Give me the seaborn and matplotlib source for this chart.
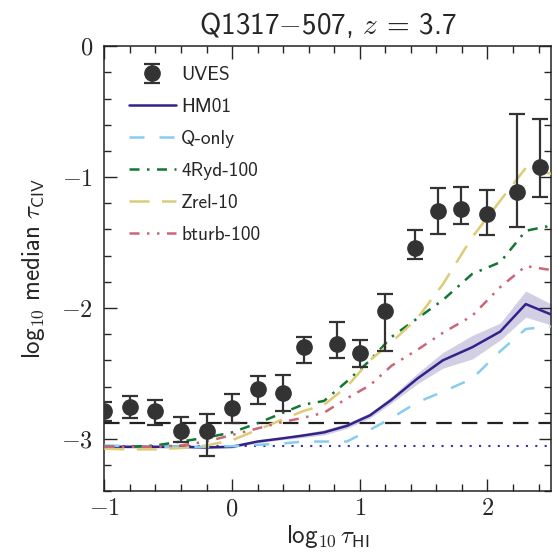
import matplotlib
matplotlib.use("Agg")
import matplotlib.pyplot as plt
from matplotlib.lines import Line2D
from matplotlib.ticker import FuncFormatter, MultipleLocator
import numpy as np
import pandas as pd
import seaborn as sns

# Observed UVES medians (log10 tau_CIV) in bins of log10 tau_HI
obs_x = [-1.0, -0.8, -0.6, -0.4, -0.2, 0.0, 0.2, 0.4, 0.56, 0.82, 1.0, 1.2,
         1.43, 1.61, 1.79, 2.0, 2.23, 2.41]
obs_y = [-2.79, -2.755, -2.79, -2.94, -2.94, -2.76, -2.62, -2.65, -2.30, -2.275,
         -2.34, -2.02, -1.545, -1.255, -1.245, -1.285, -1.11, -0.924]
obs_err_lo = [0.07, 0.085, 0.10, 0.08, 0.19, 0.12, 0.11, 0.14, 0.12, 0.105,
              0.11, 0.31, 0.08, 0.18, 0.11, 0.155, 0.27, 0.23]
obs_err_hi = [0.07, 0.085, 0.09, 0.11, 0.13, 0.10, 0.10, 0.14, 0.08, 0.165,
              0.095, 0.13, 0.14, 0.17, 0.17, 0.185, 0.59, 0.37]

# Model predictions on a common tau_HI grid
model_x = [-1.0, -0.8, -0.6, -0.4, -0.2, 0.0, 0.2, 0.4, 0.55, 0.72, 0.9, 1.08,
           1.25, 1.45, 1.65, 1.88, 2.1, 2.3, 2.5]
hm01 = [-3.06, -3.06, -3.06, -3.06, -3.065, -3.06, -3.02, -2.995, -2.975, -2.95,
        -2.90, -2.82, -2.70, -2.54, -2.40, -2.30, -2.18, -1.97, -2.05]
hm01_lo = [-3.07, -3.07, -3.07, -3.07, -3.075, -3.07, -3.03, -3.005, -2.99, -2.97,
           -2.92, -2.84, -2.725, -2.58, -2.46, -2.39, -2.245, -2.07, -2.13]
hm01_hi = [-3.05, -3.05, -3.05, -3.05, -3.055, -3.05, -3.01, -2.985, -2.96, -2.93,
           -2.88, -2.80, -2.675, -2.50, -2.34, -2.21, -2.115, -1.87, -1.97]
q_only = [-3.05, -3.055, -3.06, -3.06, -3.06, -3.055, -3.045, -3.035, -3.02, -3.02,
          -3.02, -2.93, -2.84, -2.72, -2.64, -2.54, -2.33, -2.16, -2.14]
ryd4_100 = [-3.06, -3.06, -3.05, -3.02, -2.99, -2.95, -2.88, -2.80, -2.74, -2.71,
            -2.56, -2.40, -2.22, -2.08, -1.94, -1.74, -1.65, -1.41, -1.37]
zrel_10 = [-3.075, -3.08, -3.08, -3.07, -3.05, -3.01, -2.93, -2.85, -2.79, -2.74,
           -2.60, -2.40, -2.26, -2.08, -1.82, -1.46, -1.18, -0.93, -0.975]
bturb_100 = [-3.06, -3.06, -3.06, -3.05, -3.02, -2.97, -2.92, -2.87, -2.84, -2.80,
             -2.69, -2.59, -2.44, -2.32, -2.19, -2.06, -1.84, -1.68, -1.71]

model_names = ["HM01", "Q-only", "4Ryd-100", "Zrel-10", "bturb-100"]
model_values = [hm01, q_only, ryd4_100, zrel_10, bturb_100]

# Reference levels
noise_level = -2.875
hm01_floor = -3.055

x_ticks = [-1, 0, 1, 2]
y_ticks = [-3, -2, -1, 0]

colors = {"HM01": "#332288", "Q-only": "#88CCEE", "4Ryd-100": "#117733",
          "Zrel-10": "#DDCC77", "bturb-100": "#CC6677"}
dashes = {"HM01": "", "Q-only": (6, 6), "4Ryd-100": (4, 3, 1, 3),
          "Zrel-10": (8, 5), "bturb-100": (4, 3, 1, 3, 1, 3)}

df = pd.DataFrame({
    "x": np.tile(model_x, len(model_names)),
    "y": np.concatenate(model_values),
    "model": np.repeat(model_names, len(model_x)),
})

sns.set_theme(style="ticks")
plt.rcParams.update({
    "font.family": ["cmss10", "DejaVu Sans"],
    "mathtext.fontset": "cm",
    "axes.formatter.use_mathtext": False,
    "axes.linewidth": 1.1,
    "axes.edgecolor": "#222222",
    "xtick.direction": "in",
    "ytick.direction": "in",
    "xtick.top": True,
    "ytick.right": True,
    "xtick.major.size": 9,
    "ytick.major.size": 9,
    "xtick.minor.size": 5,
    "ytick.minor.size": 5,
    "xtick.major.width": 1.0,
    "ytick.major.width": 1.0,
    "xtick.minor.width": 1.0,
    "ytick.minor.width": 1.0,
    "xtick.labelsize": 17.5,
    "ytick.labelsize": 17.5,
    "xtick.major.pad": 5,
    "ytick.major.pad": 8,
})


def sans_tick(v, pos=None):
    n = int(round(v))
    if n < 0:
        return r"$-\mathsf{%d}$" % abs(n)
    return r"$\mathsf{%d}$" % n


fig, ax = plt.subplots(figsize=(5.58, 5.57), dpi=100)
fig.subplots_adjust(left=0.187, right=0.988, bottom=0.118, top=0.917)

ax.axhline(noise_level, color="#222222", lw=1.6, dashes=(7, 4.5), zorder=1)
ax.axhline(hm01_floor, color="#3333aa", lw=1.5, dashes=(1, 3.5), zorder=1)

ax.fill_between(model_x, hm01_lo, hm01_hi, color="#332288", alpha=0.22,
                lw=0, zorder=2)

sns.lineplot(data=df, x="x", y="y", hue="model", style="model",
             hue_order=model_names, style_order=model_names,
             palette=colors, dashes=dashes, lw=1.8, ax=ax, legend=False,
             sort=False, zorder=3)

ax.errorbar(obs_x, obs_y, yerr=[obs_err_lo, obs_err_hi], fmt="o",
            color="#333333", ms=11, capsize=5.5, elinewidth=1.6,
            capthick=1.6, zorder=5)

handles = [ax.containers[0]]
labels = ["UVES"]
for name in model_names:
    h = Line2D([], [], color=colors[name], lw=1.8)
    if dashes[name]:
        h.set_dashes(dashes[name])
    handles.append(h)
    labels.append(name)
ax.legend(handles, labels, loc="upper left", frameon=False, fontsize=14,
          handlelength=2.4, handletextpad=0.3, labelspacing=0.72,
          borderaxespad=0.4, bbox_to_anchor=(0.02, 0.99))

ax.set_xlim(-1, 2.5)
ax.set_ylim(-3.4, 0)
ax.set_xticks(x_ticks)
ax.set_yticks(y_ticks)
ax.xaxis.set_minor_locator(MultipleLocator(0.2))
ax.yaxis.set_minor_locator(MultipleLocator(0.2))
ax.xaxis.set_major_formatter(FuncFormatter(sans_tick))
ax.yaxis.set_major_formatter(FuncFormatter(sans_tick))

ax.set_xlabel(r"$\mathsf{log}_{\mathsf{10}}\,\tau_{\mathsf{HI}}$", fontsize=18,
              labelpad=2)
ax.set_ylabel(r"$\mathsf{log}_{\mathsf{10}}\ \mathsf{median}\ \tau_{\mathsf{CIV}}$",
              fontsize=18, labelpad=10)
ax.set_title(r"Q1317$-$507, $z$ = 3.7", fontsize=21, pad=9)

fig.savefig("out.png", dpi=100)
